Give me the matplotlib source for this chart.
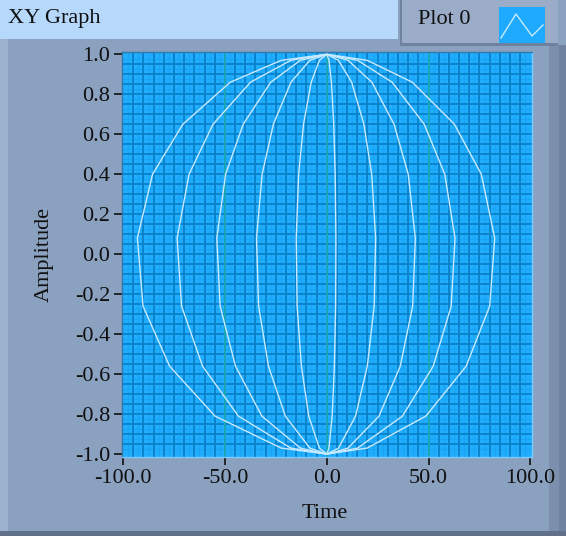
import matplotlib
matplotlib.use("Agg")
import matplotlib.pyplot as plt
from matplotlib.patches import Rectangle
import numpy as np

# meridian amplitudes (x reach at the equator)
amplitudes = [-93.0, -73.5, -54.0, -34.5, -15.0, 4.5, 24.0, 43.5, 63.0, 82.5]

# shared outline of one meridian: height and fraction of the amplitude at each vertex
profile_y = [-1.0, -0.97, -0.81, -0.56, -0.26, 0.08, 0.40, 0.65, 0.86, 0.97, 1.0]
profile_w = [0.0, 0.24, 0.59, 0.83, 0.97, 1.0, 0.92, 0.76, 0.51, 0.24, 0.0]

x_ticks = [-100, -50, 0, 50, 100]
y_ticks = [1.0, 0.8, 0.6, 0.4, 0.2, 0.0, -0.2, -0.4, -0.6, -0.8, -1.0]

W, H = 566, 536
FONT = "Liberation Serif"
FS = 16

fig = plt.figure(figsize=(W / 100, H / 100), dpi=100)
fig.patch.set_facecolor("#8ba1c0")

# background panel in pixel coordinates
bg = fig.add_axes([0, 0, 1, 1])
bg.set_xlim(0, W)
bg.set_ylim(H, 0)
bg.axis("off")
bg.add_patch(Rectangle((0, 0), 8, H, color="#9db2cf", lw=0))
bg.add_patch(Rectangle((549, 45), 10, H, color="#7c90ae", lw=0))
bg.add_patch(Rectangle((559, 45), 7, H, color="#6f829f", lw=0))
bg.add_patch(Rectangle((0, 531), W, 5, color="#5f7088", lw=0))
# title bar
bg.add_patch(Rectangle((0, 0), 398, 39, color="#b6d8fb", lw=0))
bg.text(8, 18, "XY Graph", fontsize=FS, family=FONT, color="#101010",
        va="center", ha="left")
# legend box
bg.add_patch(Rectangle((400, 0), 158, 46, color="#6e819e", lw=0))
bg.add_patch(Rectangle((402, 0), 156, 43, color="#9aacc8", lw=0))
bg.text(418, 20, "Plot 0", fontsize=FS, family=FONT, color="#101010",
        va="center", ha="left")
bg.add_patch(Rectangle((499, 7), 46, 36, color="#1eaaff", lw=0))
bg.plot([501, 516, 532, 543], [38, 14, 36, 25], color="#c6e9ff", lw=1.0)
bg.text(44, 255, "Amplitude", fontsize=FS, family=FONT, color="#101010",
        rotation=90, va="center", ha="center")
bg.text(325, 514, "Time", fontsize=FS, family=FONT, color="#101010",
        va="center", ha="center")

# plot area
ax = fig.add_axes([121.5 / W, 1 - 456.7 / H, 410.5 / W, 404.4 / H])
ax.set_facecolor("#22aefe")
ax.set_xlim(-100.8, 100.8)
ax.set_ylim(-1.013, 1.01)

for v in np.arange(-97.5, 100, 5):
    ax.axvline(v, color="#1aa4f4", lw=1.0, zorder=0)
for v in np.arange(-0.975, 1.0, 0.05):
    ax.axhline(v, color="#1aa4f4", lw=1.0, zorder=0)
for v in np.arange(-95, 100, 5):
    ax.axvline(v, color="#0a80c8", lw=1.3, zorder=0.5)
for v in np.arange(-0.95, 1.0, 0.05):
    ax.axhline(v, color="#0a80c8", lw=1.3, zorder=0.5)
for v in [-50, 0, 50]:
    ax.axvline(v, color="#1aa6b4", lw=1.4, zorder=0.6)

py = np.array(profile_y)
pw = np.array(profile_w)
for a in amplitudes:
    ax.plot(a * pw, py, color="#c8eaff", lw=1.0, zorder=2)

ax.set_xticks(x_ticks)
ax.set_xticklabels([f"{v:.1f}" for v in x_ticks])
ax.set_yticks(y_ticks)
ax.set_yticklabels([f"{v:.1f}" for v in y_ticks])
ax.tick_params(axis="both", direction="out", length=6, width=1.2,
               color="#101010", labelsize=FS, labelcolor="#101010")
ax.tick_params(axis="y", pad=2)
ax.tick_params(axis="x", pad=3)
for lab in ax.get_xticklabels() + ax.get_yticklabels():
    lab.set_fontfamily(FONT)
for side, sp in ax.spines.items():
    sp.set_color("#2f78b0")
    sp.set_linewidth(1.0)
ax.spines["right"].set_color("#7ccaff")
ax.spines["bottom"].set_color("#7ccaff")

fig.savefig("out.png", dpi=100)
